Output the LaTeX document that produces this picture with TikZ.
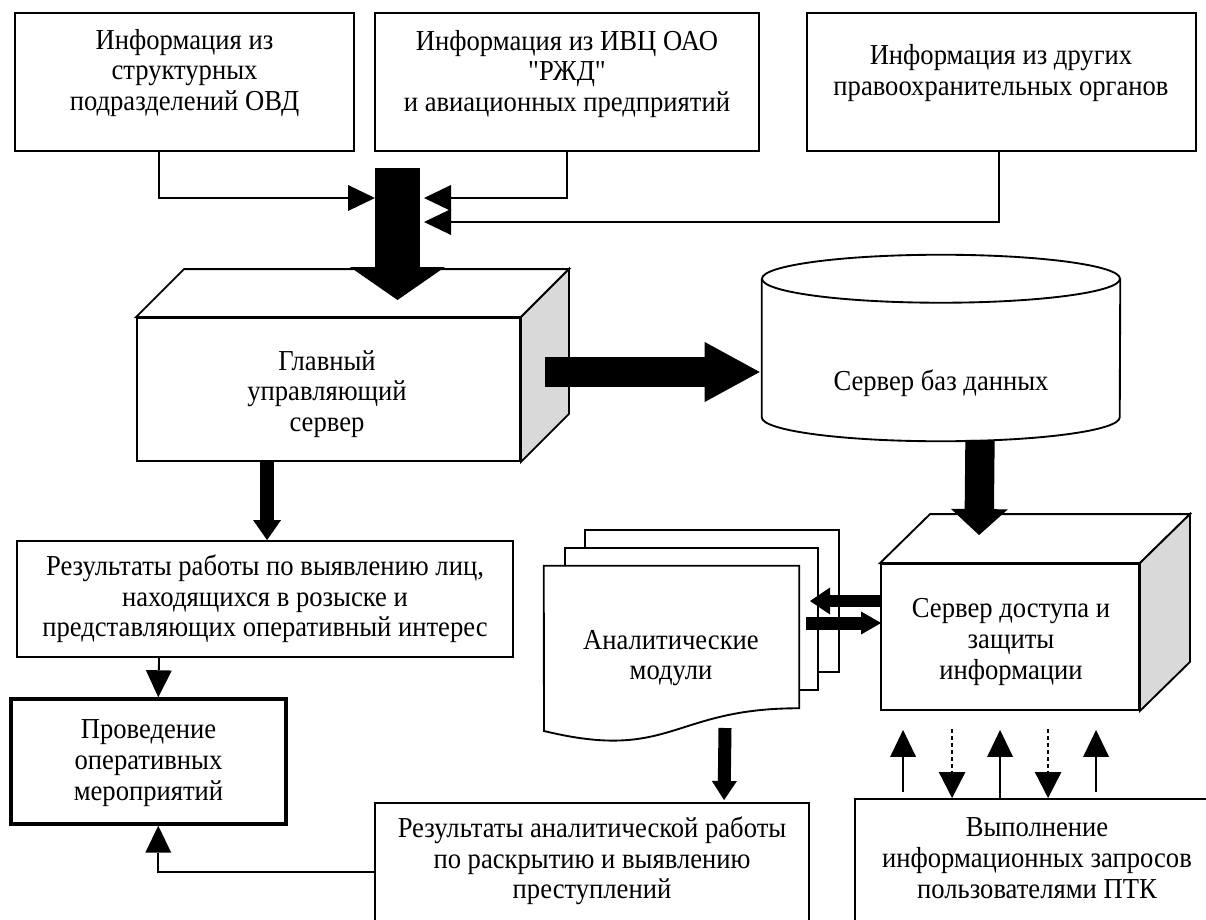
\documentclass[tikz,border=0pt]{standalone}
\usepackage{fontspec}
\setmainfont{Liberation Serif}[FakeStretch=0.92]
\newfontfamily\rawserif{Liberation Serif}[FakeStretch=0.92]
\usetikzlibrary{arrows.meta,calc,fit}
\tikzset{
  box/.style={draw, line width=1.4pt, inner sep=0pt, fill=white},
  thickbox/.style={draw, line width=2.6pt, inner sep=0pt, fill=white},
  ghost/.style={inner sep=0pt},
  face/.style={draw, line width=1.4pt, line join=miter},
  txt/.style={align=center, inner sep=0pt, font=\fontsize{21.7pt}{23pt}\selectfont},
  conn/.style={line width=1.4pt, -{Triangle[length=20.25pt,width=19.5pt,line width=0pt]}},
  dconn/.style={line width=1pt, dash pattern=on 3pt off 2.25pt, -{Triangle[length=19.5pt,width=20pt,line width=0pt]}},
  fat/.style n args={3}{line width=#1, -{Triangle[width=#2,length=#3,line width=0pt]}}
}
\begin{document}
\begin{tikzpicture}[x=0.75pt,y=-0.75pt]
\useasboundingbox (0,0) rectangle (1206,920);

% ---- source boxes
\node[box, fit={(15,13) (354,151)}] (src1) {};
\node[box, fit={(375,13) (759,151)}] (src2) {};
\node[box, fit={(807,13) (1196,151)}] (src3) {};
\node[txt] (src1t) at (184.5,73) {Информация из\\структурных\\подразделений ОВД};
\node[txt] (src2t) at (567,74) {Информация из ИВЦ ОАО\\{\rawserif"}РЖД{\rawserif"}\\и авиационных предприятий};
\node[txt] (src3t) at (1001,73) {Информация из других\\правоохранительных органов};

% ---- main server (3D box)
\node[box, fit={(137,318) (520,461)}] (main) {};
\draw[face, fill=white] (main.north west) -- ++(48,-48) -- ($(main.north east)+(48,-48)$) -- (main.north east) -- cycle;
\draw[face, fill=black!15] (main.north east) -- ++(48,-48) -- ($(main.south east)+(48,-48)$) -- (main.south east) -- cycle;
\node[txt] (maint) at (327,394) {Главный\\управляющий\\сервер};

% ---- database cylinder
\node[ghost, fit={(762,279) (1120,417)}] (db) {};
\draw[face, fill=white] (db.north west) -- (db.south west) arc[start angle=180, end angle=0, x radius=179, y radius=24] -- (db.north east);
\draw[face, fill=white] (db.north) ellipse[x radius=179, y radius=24];
\node[txt] (dbt) at (941,383) {Сервер баз данных};

% ---- access server (3D box)
\node[box, fit={(881,564) (1139,710)}] (acc) {};
\draw[face, fill=white] (acc.north west) -- ++(50,-49) -- ($(acc.north east)+(50,-49)$) -- (acc.north east) -- cycle;
\draw[face, fill=black!15] (acc.north east) -- ++(50,-49) -- ($(acc.south east)+(50,-49)$) -- (acc.south east) -- cycle;
\node[txt] (acct) at (1011,642) {Сервер доступа и\\защиты\\информации};

% ---- results of search
\node[box, fit={(17,541) (513,657)}] (res) {};
\node[txt] (rest) at (265,599) {Результаты работы по выявлению лиц,\\находящихся в розыске и\\представляющих оперативный интерес};

% ---- operational measures
\node[thickbox, fit={(11,699) (286,824)}] (prov) {};
\node[txt] (provt) at (148.5,763) {Проведение\\оперативных\\мероприятий};

% ---- analytical modules (stacked documents)
\node[box, fit={(585,530) (839,672)}] (mod3) {};
\node[box, fit={(565,548) (818,690)}] (mod2) {};
\node[ghost, fit={(544,566) (799,708)}] (mod) {};
\draw[face, fill=white] (mod.north west) -- (mod.north east) -- (mod.south east)
  .. controls (671.5,708) and (671.5,762) .. (544,731) -- cycle;
\node[txt] (modt) at (671,658) {Аналитические\\модули};

% ---- analytic results (cut by the page edge)
\node[box, fit={(375,803) (809,935)}] (anal) {};
\node[txt] (analt) at (592,861) {Результаты аналитической работы\\по раскрытию и выявлению\\преступлений};

% ---- user requests (cut by the page edge)
\node[box, fit={(855,799) (1215,935)}] (exec) {};
\node[txt] (exect) at (1037,858) {Выполнение\\информационных запросов\\пользователями ПТК};

% ---- big input arrow
\coordinate (inTop) at (397.5,168);
\coordinate (inTip) at (397.5,300);
\draw[fat={33.75pt}{71.25pt}{24.75pt}] (inTop) -- (inTip);
\coordinate (shL) at (375,198);
\coordinate (shR) at (424,198);
\coordinate (shR2) at (424,222);
\draw[conn] ($(src1.south west)+(145,0)$) |- (shL);
\draw[conn] ($(src2.south west)+(193,0)$) |- (shR);
\draw[conn] ($(src3.south west)+(193,0)$) |- (shR2);

% ---- fat arrows between servers
\draw[fat={22.5pt}{45pt}{41.25pt}] ($(main.east)+(24,-17.5)$) -- ($(db.west)+(-2,24)$);
\draw[fat={22pt}{42.75pt}{19.5pt}] (980,440) -- ($(acc.north west)+(99,-28)$);
\draw[fat={10.5pt}{21pt}{15pt}] ($(main.south west)+(131,0)$) -- ($(res.north west)+(251,0)$);
\draw[fat={9.75pt}{18.75pt}{14.25pt}] (725,728) -- ($(anal.north west)+(350,-2)$);
\draw[fat={9pt}{20.25pt}{15pt}] ($(acc.west)+(0,-36)$) -- (810,601);
\draw[fat={9.75pt}{17.25pt}{15pt}] (806,623) -- ($(acc.west)+(1,-14)$);

% ---- thin connectors at the left
\draw[conn] ($(res.south west)+(143,0)$) -- ($(prov.north west)+(149,0)$);
\draw[conn] ($(anal.north west)+(0,70)$) -| ($(prov.south west)+(149,0)$);

% ---- request arrows
\draw[conn] ($(exec.north west)+(49,-6)$) -- ($(acc.south west)+(23,19)$);
\draw[conn] ($(exec.north west)+(146,0)$) -- ($(acc.south west)+(120,19)$);
\draw[conn] ($(exec.north west)+(242,-6)$) -- ($(acc.south west)+(216,19)$);
\draw[dconn] ($(acc.south west)+(72,18)$) -- ($(exec.north west)+(98,0)$);
\draw[dconn] ($(acc.south west)+(168,18)$) -- ($(exec.north west)+(194,0)$);
\end{tikzpicture}
\end{document}
